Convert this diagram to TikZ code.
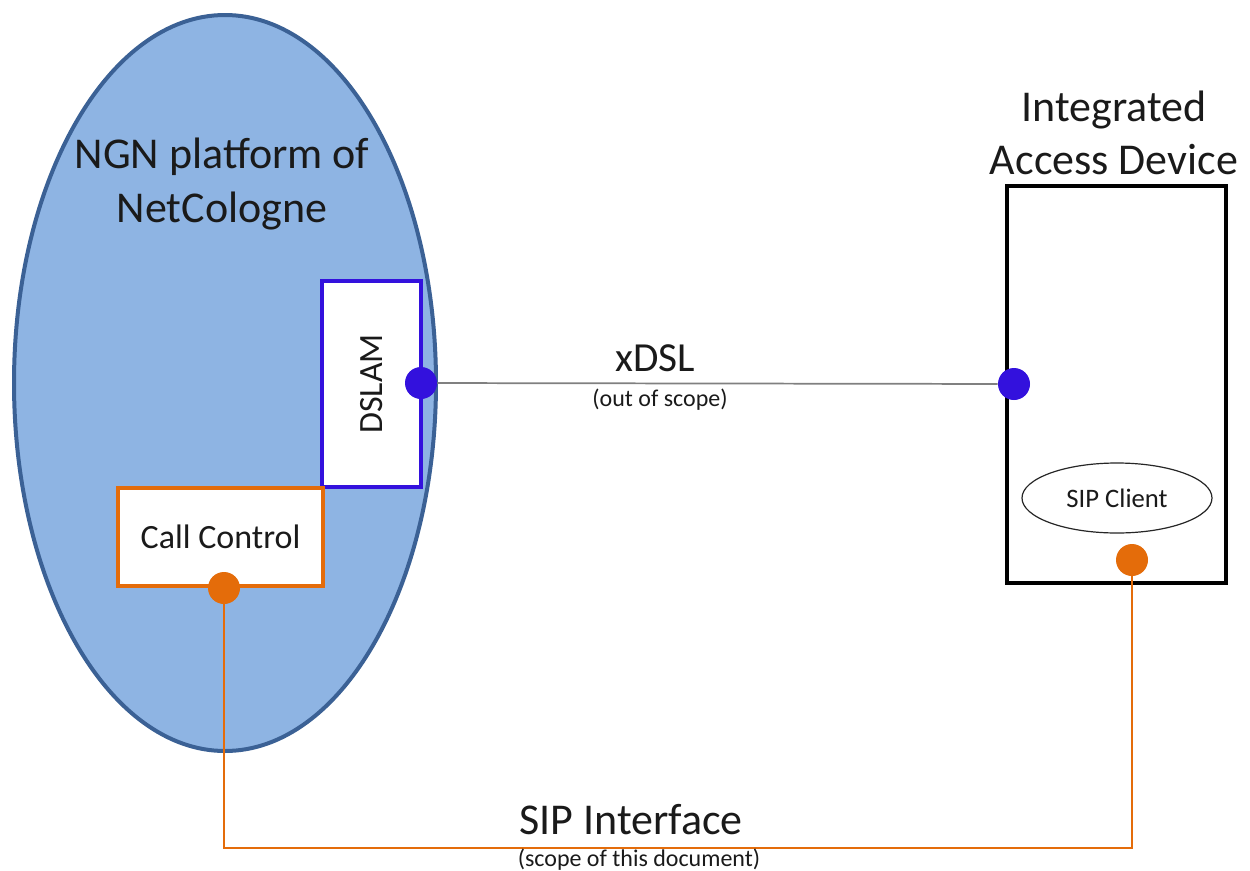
\documentclass[tikz,border=0pt]{standalone}
\usepackage{fontspec}
\setmainfont{Carlito}
\usetikzlibrary{shapes.geometric}
\definecolor{ngnfill}{HTML}{8EB4E3}
\definecolor{ngnline}{HTML}{3B6195}
\definecolor{dslblue}{HTML}{3311DD}
\definecolor{sorange}{HTML}{E46C0A}
\definecolor{xgray}{HTML}{808080}
\definecolor{txt}{HTML}{1A1A1A}
\tikzset{
  bigtext/.style={font=\fontsize{33pt}{40pt}\selectfont, text=txt, align=center, inner sep=0pt},
  midtext/.style={font=\fontsize{25.5pt}{30pt}\selectfont, text=txt, inner sep=0pt},
  smalltext/.style={font=\fontsize{18pt}{21pt}\selectfont, text=txt, inner sep=0pt},
  bluedot/.style={circle, fill=dslblue, minimum size=24pt, inner sep=0pt},
  orangedot/.style={circle, fill=sorange, minimum size=24pt, inner sep=0pt},
  boxwhite/.style={rectangle, fill=white, inner sep=0pt},
}
\begin{document}
\begin{tikzpicture}[x=0.75pt,y=-0.75pt]
\useasboundingbox (0,0) rectangle (1250,871);
% NGN platform ellipse
\node[ellipse, fill=ngnfill, draw=ngnline, line width=3pt,
      minimum width=316.5pt, minimum height=552pt, inner sep=0pt] (ngn) at (225,383) {};
\node[bigtext] (ngntitle) at (222,184) {NGN platform of\\NetCologne};
% DSLAM
\node[boxwhite, draw=dslblue, line width=3pt, rotate=90,
      minimum width=154.5pt, minimum height=74.25pt, midtext] (dslam) at (371.5,384) {DSLAM};
% Call Control
\node[boxwhite, draw=sorange, line width=3.2pt,
      minimum width=153.75pt, minimum height=73.5pt, midtext] (cc) at (220.5,537) {Call Control};
% IAD
\node[boxwhite, draw=black, line width=3.6pt,
      minimum width=164.25pt, minimum height=297.75pt] (iad) at (1116.5,384.5) {};
\node[bigtext] (iadtitle) at (1114,133) {Integrated\\Access Device};
% SIP client
\node[ellipse, draw=black!85, line width=0.9pt, fill=white,
      minimum width=142.5pt, minimum height=52.5pt, inner sep=0pt,
      font=\fontsize{20pt}{24pt}\selectfont, text=txt] (sipc) at (1117,498) {SIP Client};
% dots
\node[bluedot] (dotL) at (421,383) {};
\node[bluedot] (dotR) at (1014,384) {};
\node[orangedot] (ccdot) at (224,588) {};
\node[orangedot] (sipdot) at (1132,560) {};
% xDSL link
\draw[xgray, line width=1.3pt] (dotL) -- (dotR);
\node[font=\fontsize{31pt}{36pt}\selectfont, text=txt, inner sep=0pt] (xdsl) at (655,358) {xDSL};
\node[smalltext] (oos) at (660,400) {(out of scope)};
% SIP interface
\coordinate (bend) at (678,848);
\draw[sorange, line width=1.1pt] (ccdot) |- (bend) -| (sipdot);
\node[font=\fontsize{33pt}{38pt}\selectfont, text=txt, inner sep=0pt] (sipif) at (631,820) {SIP Interface};
\node[smalltext] (scope) at (639,860) {(scope of this document)};
\end{tikzpicture}
\end{document}
